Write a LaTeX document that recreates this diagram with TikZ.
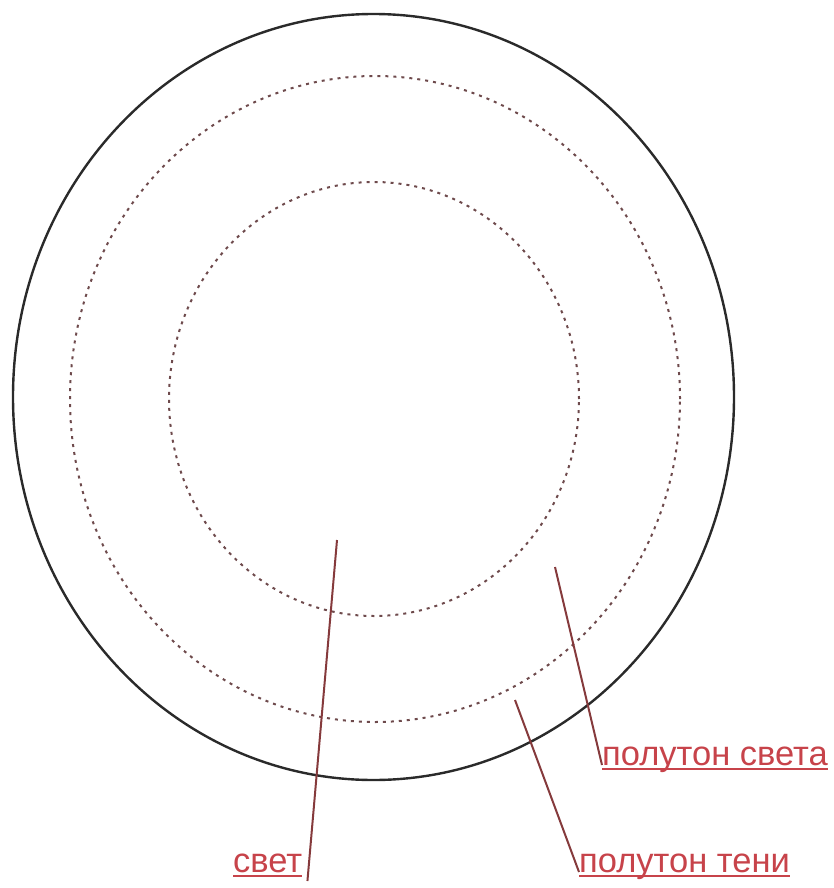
\documentclass[tikz,border=0pt]{standalone}
\usepackage{fontspec}
\setmainfont{Liberation Sans}
\usetikzlibrary{positioning}
\definecolor{RimDark}{HTML}{2A2A2A}
\definecolor{ZoneDot}{HTML}{6E4A4C}
\definecolor{LeaderRed}{HTML}{853A3C}
\definecolor{LabelRed}{HTML}{C7434A}
\tikzset{
  rim/.style={draw=RimDark, line width=2.4pt},
  zone/.style={draw=ZoneDot, line width=2pt, dash pattern=on 3pt off 5pt},
  leader/.style={draw=LeaderRed, line width=2pt},
  zonelabel/.style={font=\fontsize{34.5}{40}\selectfont\color{LabelRed},
                    inner sep=0pt, anchor=base west},
  underline/.style={draw=LabelRed, line width=1.4pt},
}
\begin{document}
\begin{tikzpicture}[x=1pt, y=-1pt]
  \useasboundingbox (0,0) rectangle (833,888);

  % outer contour and the two zone borders
  \draw[rim] (373.5,397) ellipse [x radius=360.5pt, y radius=383pt];
  \draw[zone] (375,399) ellipse [x radius=305pt, y radius=323pt];
  \draw[zone] (374,399) ellipse [x radius=205pt, y radius=217pt];

  % labels
  \node[zonelabel] (svet) at (233,872) {свет};
  \node[zonelabel] (halflight) at (602,765) {полутон света};
  \node[zonelabel] (halfshadow) at (579,872) {полутон тени};

  \coordinate (svetpt) at (337,540);
  \coordinate (halflightpt) at (555,567);
  \coordinate (halfshadowpt) at (515,700);

  \draw[leader] (svetpt) -- ([xshift=5pt,yshift=-9pt]svet.base east);
  \draw[leader] (halflightpt) -- (halflight.base west);
  \draw[leader] (halfshadowpt) -- (halfshadow.base west);

  \draw[underline] ([yshift=-4pt]svet.base west) -- ([yshift=-4pt]svet.base east);
  \draw[underline] ([yshift=-4pt]halflight.base west) -- ([yshift=-4pt]halflight.base east);
  \draw[underline] ([yshift=-4pt]halfshadow.base west) -- ([yshift=-4pt]halfshadow.base east);
\end{tikzpicture}
\end{document}
